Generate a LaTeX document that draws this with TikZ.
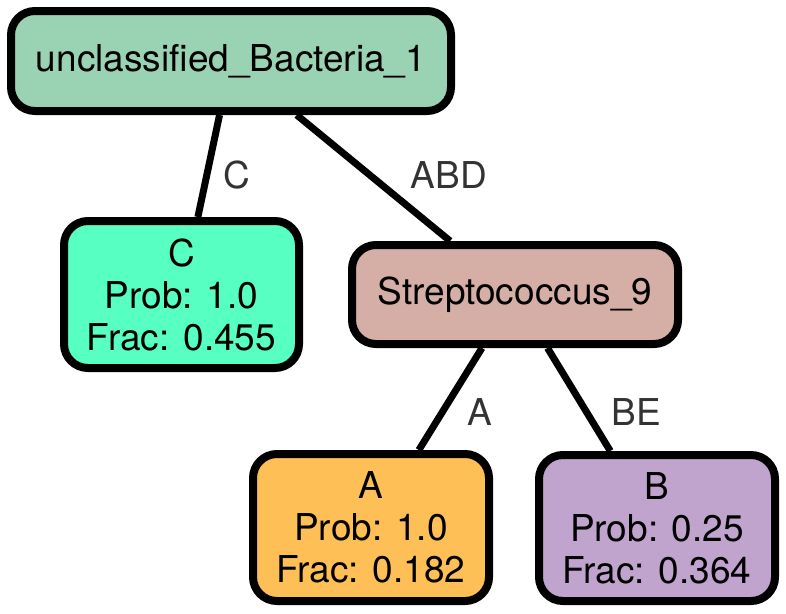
\documentclass[tikz,border=0pt]{standalone}
\usepackage{fontspec}
\setmainfont{TeX Gyre Heros}
\usepackage{tikz}

\definecolor{rootgreen}{HTML}{9AD3B3}
\definecolor{leafC}{HTML}{57FFC2}
\definecolor{streprose}{HTML}{D5AFA6}
\definecolor{leafA}{HTML}{FEBF57}
\definecolor{leafB}{HTML}{C0A4CD}
\definecolor{lblgray}{HTML}{333333}

\tikzset{
  taxon/.style={draw=black, line width=8pt, rounded corners=24pt, align=center, inner sep=0pt, font=\fontsize{37}{42}\selectfont},
  branch/.style={line width=7pt},
  edgelbl/.style={text=lblgray, inner sep=0pt, font=\fontsize{37}{42}\selectfont}
}

\begin{document}
\begin{tikzpicture}[x=1pt, y=-1pt]
	\useasboundingbox (0,0) rectangle (786,613);
	% root
	\node[taxon, fill=rootgreen, minimum width=440pt, minimum height=100pt] (bact) at (231,61) {unclassified\_Bacteria\_1};
	% leaf C
	\node[taxon, fill=leafC, minimum width=235pt, minimum height=147pt] (C) at (181.5,294.5) {C\\Prob: 1.0\\Frac: 0.455};
	% inner node
	\node[taxon, fill=streprose, minimum width=326pt, minimum height=99pt] (strep) at (515,294.5) {Streptococcus\_9};
	% leaf A
	\node[taxon, fill=leafA, minimum width=236pt, minimum height=147pt] (A) at (371,527.5) {A\\Prob: 1.0\\Frac: 0.182};
	% leaf B
	\node[taxon, fill=leafB, minimum width=236pt, minimum height=146pt] (B) at (657,528) {B\\Prob: 0.25\\Frac: 0.364};
	% branches
	\draw[branch] (bact) -- (C);
	\draw[branch] (bact) -- (strep);
	\draw[branch] (strep) -- (A);
	\draw[branch] (strep) -- (B);
	% branch labels
	\node[edgelbl] (lblC) at (237,175) {C};
	\node[edgelbl] (lblABD) at (449,175) {ABD};
	\node[edgelbl] (lblA) at (480,412) {A};
	\node[edgelbl] (lblBE) at (636,412) {BE};
\end{tikzpicture}
\end{document}
